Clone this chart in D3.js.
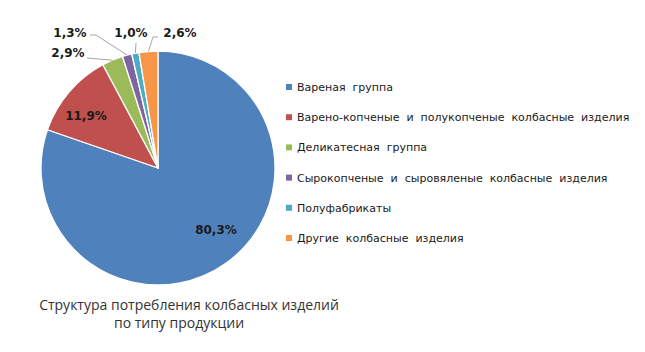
<!DOCTYPE html>
<html><head><meta charset="utf-8">
<script src="https://cdn.jsdelivr.net/npm/d3@7"></script>
<style>body{margin:0;background:#fff}svg{display:block}</style>
</head><body>
<svg id="c" width="645" height="352"></svg>
<script>
const categories = ["Вареная  группа","Варено-копченые  и  полукопченые  колбасные  изделия","Деликатесная  группа","Сырокопченые  и  сыровяленые  колбасные  изделия","Полуфабрикаты","Другие  колбасные  изделия"];
const values = [80.3, 11.9, 2.9, 1.3, 1.0, 2.6];
const valueLabels = ["80,3%","11,9%","2,9%","1,3%","1,0%","2,6%"];
const colors = ["#4f81bd","#c0504d","#9bbb59","#8064a2","#4bacc6","#f79646"];
const titleLines = ["Структура потребления колбасных изделий","по типу продукции"];

// layout
const cx = 158, cy = 168, R = 117;
// label anchor positions (text center), and leader line bend points
const labelLayout = [
  {x:216, y:230, leader:false},
  {x:86,  y:116, leader:false},
  {x:68,  y:53,  leader:[[87,58],[87,58]]},
  {x:70,  y:33,  leader:[[90,35],[96,35]]},
  {x:131, y:33,  leader:[[136,43],[136,43]]},
  {x:180, y:33,  leader:[[158,37],[153,37]]}
];
const titlePos = [{x:189, y:310}, {x:179, y:328}];

const svg = d3.select("#c");
const pie = d3.pie().sort(null).value(d => d)(values);
const arc = d3.arc().innerRadius(0).outerRadius(R);
const g = svg.append("g").attr("transform", `translate(${cx},${cy})`);
g.selectAll("path").data(pie).join("path")
  .attr("d", arc).attr("fill", (d,i) => colors[i])
  .attr("stroke", "#fff").attr("stroke-width", 1.3).attr("stroke-linejoin","round");

// leader lines
pie.forEach((d,i) => {
  const L = labelLayout[i];
  if (!L.leader) return;
  const a = (d.startAngle + d.endAngle)/2;
  const ex = cx + R*Math.sin(a), ey = cy - R*Math.cos(a);
  const pts = [L.leader[0], L.leader[1], [ex, ey]];
  svg.append("path").attr("d", d3.line()(pts))
    .attr("fill","none").attr("stroke","#a6a6a6").attr("stroke-width",1);
});

svg.selectAll("text.vl").data(valueLabels).join("text").attr("class","vl")
  .attr("x", (d,i) => labelLayout[i].x).attr("y", (d,i) => labelLayout[i].y)
  .attr("dy","0.36em").attr("text-anchor","middle")
  .attr("font-family","DejaVu Sans, Verdana, sans-serif").attr("font-weight","bold")
  .attr("font-size","12px").attr("fill","#1a1a1a").text(d => d);

// legend
const ly = d3.scalePoint().domain(d3.range(categories.length)).range([87, 238]);
const leg = svg.append("g");
categories.forEach((c,i) => {
  leg.append("rect").attr("x",286).attr("y",ly(i)-3).attr("width",6).attr("height",6).attr("fill",colors[i]);
  leg.append("text").attr("x",297).attr("y",ly(i)).attr("dy","0.36em")
    .attr("xml:space","preserve").style("white-space","pre")
    .attr("font-family","DejaVu Sans, Verdana, sans-serif").attr("font-size","11px")
    .attr("fill","#1a1a1a").text(c);
});

// title
svg.selectAll("text.tt").data(titleLines).join("text").attr("class","tt")
  .attr("x", (d,i)=>titlePos[i].x).attr("y",(d,i)=>titlePos[i].y).attr("text-anchor","middle")
  .attr("font-family","Open Sans, sans-serif").attr("font-size","14px")
  .attr("fill","#333").text(d=>d);
</script>
</body></html>
